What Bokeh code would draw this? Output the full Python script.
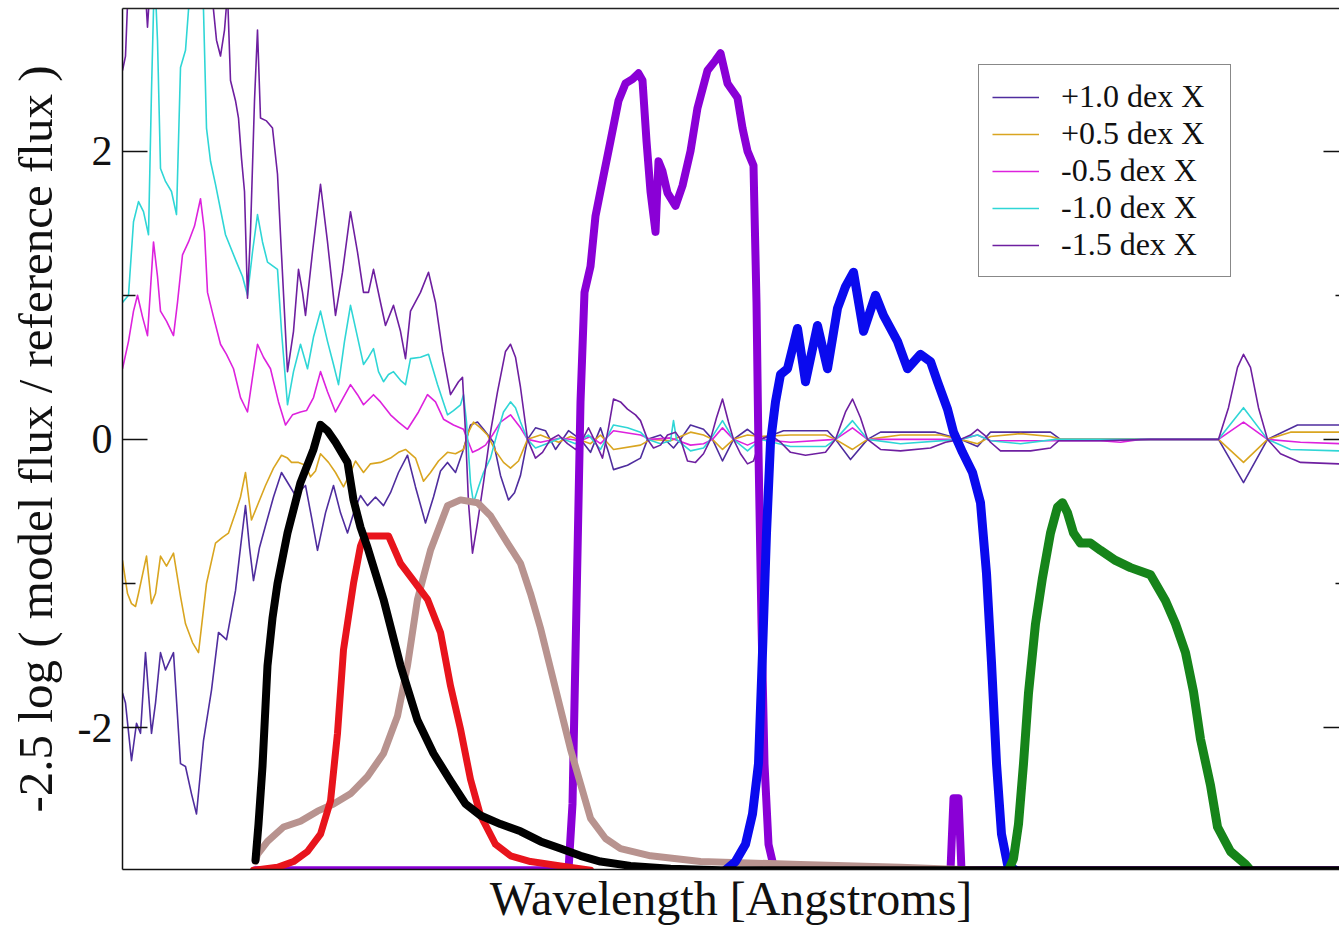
from bokeh.plotting import figure
from bokeh.models import Range1d, LinearAxis, FixedTicker, Legend, LegendItem
from bokeh.embed import file_html
from bokeh.resources import INLINE

# ---------------- data: wavelength [A], -2.5 log(model/reference) ----------------
P10 = [(1000,-1.76),(1030,-1.83),(1090,-2.23),(1140,-1.97),(1180,-2.04),(1230,-1.48),(1290,-2.04),(1330,-1.83),
       (1380,-1.48),(1430,-1.60),(1510,-1.48),(1580,-2.25),(1630,-2.27),(1690,-2.46),(1740,-2.60),(1810,-2.09),
       (1890,-1.74),(1960,-1.34),(2040,-1.39),(2130,-1.05),(2180,-0.75),(2230,-0.46),(2270,-0.75),(2310,-0.98),
       (2370,-0.75),(2430,-0.60),(2510,-0.40),(2590,-0.23),(2660,-0.31),(2730,-0.39),(2830,-0.32),(2890,-0.54),
       (2950,-0.77),(3030,-0.51),(3110,-0.32),(3180,-0.51),(3250,-0.65),(3330,-0.47),(3380,-0.39),(3450,-0.46),
       (3530,-0.40),(3610,-0.46),(3680,-0.37),(3760,-0.23),(3850,-0.11),(3930,-0.33),(4030,-0.58),(4110,-0.40),
       (4180,-0.22),(4250,-0.16),(4330,-0.23),(4400,-0.09),(4480,0.10),(4550,0.12),(4610,0.07),(4710,-0.02),
       (4780,-0.25),(4860,-0.42),(4920,-0.37),(4980,-0.25),(5050,0),(5130,0.08),(5230,0.06),(5330,-0.07),
       (5460,0.06),(5580,0),(5680,-0.09),(5780,0.08),(5860,-0.09),(5910,-0.21),(6050,-0.18),(6180,-0.13),
       (6250,0),(6380,0.03),(6510,-0.06),(6580,0),(6680,0.10),(6810,0.07),(6900,0),(7000,-0.15),(7110,0),
       (7250,0.07),(7380,0),(7610,0.06),(8050,0.06),(8130,0),(8280,-0.14),(8450,0),(8580,0.05),(9130,0.05),
       (9380,0),(9550,-0.05),(9680,0.05),(10280,0.05),(10380,0),(11960,0),(12210,-0.30),(12450,0),(12750,0.10),
       (13170,0.10)]

P05 = [(1000,-0.84),(1050,-1.07),(1090,-1.14),(1130,-1.16),(1160,-1.07),(1240,-0.81),(1290,-1.14),(1330,-1.07),
       (1380,-0.81),(1440,-0.88),(1510,-0.79),(1580,-1.09),(1630,-1.28),(1700,-1.41),(1760,-1.48),(1840,-1.00),
       (1930,-0.72),(2000,-0.68),(2060,-0.65),(2130,-0.51),(2180,-0.40),(2230,-0.23),(2290,-0.56),(2360,-0.44),
       (2430,-0.32),(2510,-0.20),(2590,-0.11),(2650,-0.13),(2690,-0.16),(2760,-0.16),(2830,-0.18),(2880,-0.26),
       (2930,-0.22),(2980,-0.10),(3060,-0.16),(3130,-0.23),(3210,-0.33),(3280,-0.23),(3330,-0.15),(3410,-0.23),
       (3480,-0.17),(3580,-0.16),(3680,-0.13),(3760,-0.09),(3830,-0.07),(3930,-0.13),(4010,-0.29),(4080,-0.23),
       (4160,-0.15),(4250,-0.09),(4330,-0.10),(4410,-0.07),(4460,0.05),(4510,0.12),(4580,0.08),(4650,0.03),
       (4730,-0.08),(4810,-0.16),(4880,-0.20),(4960,-0.15),(5050,0),(5180,0.03),(5360,-0.02),(5480,0.02),
       (5680,-0.03),(5780,0.03),(5910,-0.07),(6180,-0.04),(6280,0),(6480,-0.01),(6680,0.05),(6810,0.03),
       (6900,0),(7000,-0.07),(7110,0),(7250,0.03),(7380,0.02),(7680,0.03),(8030,0.03),(8130,0),(8300,-0.07),
       (8450,0),(8780,0.03),(9180,0.03),(9380,0),(9550,-0.03),(9680,0.02),(9980,0.04),(10280,0.02),(10380,0),
       (11960,0),(12210,-0.16),(12450,0),(12680,0.05),(13170,0.05)]

M05 = [(1000,0.49),(1060,0.68),(1110,0.89),(1150,1.00),(1200,0.85),(1250,0.72),(1310,1.37),(1350,1.13),
       (1380,0.89),(1440,0.82),(1510,0.72),(1550,0.95),(1600,1.28),(1660,1.37),(1720,1.48),(1780,1.67),
       (1820,1.44),(1850,1.02),(1910,0.85),(1980,0.66),(2040,0.59),(2110,0.49),(2180,0.29),(2250,0.19),
       (2300,0.43),(2350,0.66),(2410,0.57),(2480,0.49),(2560,0.26),(2630,0.10),(2700,0.17),(2780,0.19),
       (2840,0.20),(2910,0.29),(2980,0.47),(3050,0.33),(3130,0.19),(3200,0.28),(3280,0.38),(3350,0.31),
       (3410,0.24),(3510,0.31),(3580,0.26),(3680,0.17),(3760,0.12),(3850,0.07),(3960,0.19),(4050,0.31),
       (4130,0.26),(4210,0.14),(4310,0.10),(4410,0.07),(4460,-0.02),(4500,-0.09),(4560,-0.07),(4630,-0.04),
       (4700,0.03),(4780,0.12),(4880,0.17),(4980,0.08),(5050,0),(5180,-0.02),(5380,0.01),(5580,-0.01),
       (5680,0.02),(5780,-0.03),(5910,0.06),(6180,0.03),(6280,0),(6480,0.01),(6680,-0.04),(6810,-0.03),
       (6900,0),(7000,0.08),(7110,0),(7250,-0.04),(7380,0),(7680,-0.02),(8130,0),(8300,0.08),(8450,0),
       (9380,0),(9550,0.03),(9680,-0.01),(10780,-0.01),(10980,-0.02),(11180,0),(11960,0),(12210,0.12),
       (12450,0),(12780,-0.02),(13170,-0.03)]

M10 = [(1000,0.95),(1060,1.00),(1110,1.51),(1160,1.65),(1210,1.58),(1260,1.42),(1290,2.42),(1310,2.98),
       (1330,3.1),(1350,2.77),(1380,1.88),(1430,1.79),(1490,1.72),(1540,1.56),(1580,2.58),(1630,2.70),
       (1660,2.98),(1710,3.2),(1780,3.2),(1810,2.98),(1840,2.16),(1880,1.93),(1930,1.77),(2030,1.42),
       (2140,1.23),(2200,1.13),(2250,1.00),(2300,1.30),(2350,1.56),(2400,1.37),(2450,1.23),(2550,1.18),
       (2590,0.75),(2650,0.24),(2710,0.47),(2780,0.66),(2850,0.49),(2910,0.71),(2980,0.89),(3050,0.68),
       (3110,0.52),(3160,0.38),(3220,0.68),(3280,0.93),(3350,0.71),(3410,0.52),(3460,0.57),(3510,0.63),
       (3560,0.47),(3610,0.40),(3660,0.45),(3710,0.47),(3780,0.41),(3830,0.38),(3880,0.56),(3980,0.57),
       (4060,0.59),(4150,0.38),(4250,0.17),(4310,0.20),(4380,0.24),(4410,0.31),(4440,0.12),(4480,-0.30),
       (4510,-0.44),(4560,-0.33),(4610,-0.23),(4680,-0.13),(4750,0.05),(4810,0.19),(4880,0.26),(4930,0.22),
       (4980,0.12),(5050,0),(5130,-0.06),(5280,-0.02),(5380,0.01),(5530,-0.03),(5660,0.03),(5780,-0.07),
       (5910,0.10),(6050,0.08),(6180,0.05),(6250,0),(6380,-0.03),(6480,-0.01),(6510,0.13),(6540,0),
       (6680,-0.08),(6810,-0.06),(6880,0),(7000,0.13),(7110,0),(7250,-0.08),(7380,0),(7680,-0.05),
       (8030,-0.05),(8130,0),(8300,0.13),(8450,0),(8780,-0.03),(9380,0),(9550,0.03),(9680,-0.01),
       (9980,-0.03),(10330,0),(11960,0),(12210,0.22),(12450,0),(12680,-0.07),(13170,-0.08)]

M15 = [(1000,2.56),(1030,2.66),(1060,3.2),(1160,3.4),(1230,3.1),(1250,2.86),(1280,3.2),(1480,3.5),
       (1730,3.4),(1900,3.05),(1940,2.77),(1980,2.66),(2020,2.84),(2050,3.1),(2080,2.49),(2130,2.35),
       (2160,2.23),(2190,1.95),(2220,1.72),(2250,0.98),(2280,1.44),(2320,2.35),(2350,2.84),(2380,2.23),
       (2440,2.21),(2500,2.16),(2550,1.84),(2580,1.42),(2650,0.47),(2710,0.75),(2760,1.18),(2800,1.02),
       (2830,0.86),(2900,1.30),(2980,1.77),(3050,1.37),(3130,0.86),(3200,1.16),(3280,1.58),(3350,1.30),
       (3410,1.02),(3460,1.02),(3510,1.18),(3580,0.95),(3630,0.79),(3710,0.93),(3780,0.75),(3830,0.56),
       (3880,0.89),(3980,1.02),(4060,1.16),(4130,0.95),(4200,0.61),(4280,0.31),(4360,0.40),(4400,0.43),
       (4430,0.05),(4460,-0.44),(4500,-0.79),(4550,-0.58),(4610,-0.30),(4680,0.05),(4750,0.33),(4830,0.61),
       (4880,0.66),(4930,0.57),(4980,0.36),(5050,0),(5130,-0.13),(5200,-0.09),(5280,0),(5360,0.03),
       (5450,-0.03),(5530,-0.07),(5600,0),(5660,0.08),(5730,-0.02),(5800,-0.13),(5860,0.08),(5910,0.28),
       (5980,0.26),(6050,0.21),(6130,0.17),(6180,0.13),(6250,0),(6310,-0.06),(6380,-0.04),(6450,0.03),
       (6530,0.05),(6580,0),(6650,-0.15),(6730,-0.16),(6810,-0.10),(6880,0),(6940,0.15),(7000,0.28),
       (7060,0.12),(7110,0),(7180,-0.10),(7250,-0.17),(7310,-0.15),(7380,0),(7480,0.03),(7580,-0.02),
       (7680,-0.09),(7830,-0.11),(8030,-0.09),(8130,0),(8230,0.19),(8300,0.28),(8380,0.15),(8450,0),
       (8580,-0.07),(8780,-0.08),(9080,-0.06),(9230,-0.02),(9380,0),(9480,0.03),(9550,0.07),(9620,0.03),
       (9680,-0.02),(9780,-0.08),(10080,-0.08),(10280,-0.06),(10360,-0.01),(10780,-0.01),(11280,0),
       (11780,0),(11960,0),(12060,0.22),(12150,0.50),(12210,0.59),(12280,0.50),(12360,0.22),(12450,0),
       (12580,-0.10),(12780,-0.16),(13170,-0.17)]

# filter transmission curves (scaled onto the same axis)
F_PURPLE = [(2330,-2.99),(5460,-2.99),(5500,-2.53),(5540,-1.14),(5580,0.26),(5620,1.02),(5680,1.20),
            (5730,1.55),(5810,1.83),(5880,2.07),(5960,2.35),(6030,2.47),(6100,2.50),(6160,2.54),(6200,2.49),
            (6240,2.07),(6280,1.72),(6330,1.44),(6360,1.93),(6400,1.86),(6450,1.71),(6530,1.62),(6600,1.76),
            (6680,2.00),(6750,2.30),(6850,2.56),(6930,2.63),(6980,2.68),(7050,2.47),(7150,2.37),(7200,2.16),
            (7250,2.00),(7310,1.90),(7340,0.95),(7360,-0.09),(7390,-1.28),(7420,-2.25),(7460,-2.81),
            (7520,-2.99),(9280,-2.99),(9310,-2.49),(9360,-2.49),(9390,-2.99),(13170,-2.99)]
F_TAN = [(2330,-2.93),(2350,-2.88),(2450,-2.79),(2610,-2.69),(2780,-2.65),(2950,-2.58),(3110,-2.53),
         (3280,-2.46),(3450,-2.34),(3610,-2.18),(3750,-1.92),(3850,-1.57),(3950,-1.11),(4080,-0.77),
         (4250,-0.46),(4380,-0.42),(4550,-0.44),(4680,-0.53),(4850,-0.72),(4980,-0.86),(5080,-1.07),
         (5180,-1.31),(5280,-1.59),(5380,-1.87),(5480,-2.15),(5580,-2.39),(5680,-2.63),(5830,-2.77),
         (5980,-2.84),(6280,-2.89),(6780,-2.93),(7780,-2.95),(8780,-2.97),(9580,-2.99)]
F_RED = [(2310,-2.99),(2550,-2.97),(2710,-2.93),(2850,-2.86),(2980,-2.74),(3080,-2.51),(3150,-2.04),
         (3210,-1.46),(3310,-1.00),(3380,-0.74),(3420,-0.67),(3660,-0.67),(3780,-0.86),(3910,-0.98),
         (4050,-1.11),(4180,-1.34),(4280,-1.71),(4380,-2.01),(4480,-2.36),(4580,-2.61),(4730,-2.81),
         (4880,-2.89),(5080,-2.93),(5380,-2.96),(5680,-2.99)]
F_BLUE = [(7030,-2.99),(7130,-2.93),(7230,-2.81),(7300,-2.60),(7360,-2.25),(7400,-1.48),(7440,-0.65),
          (7480,-0.02),(7530,0.26),(7580,0.45),(7650,0.49),(7750,0.77),(7830,0.40),(7950,0.79),(8050,0.49),
          (8150,0.91),(8230,1.06),(8310,1.16),(8410,0.75),(8530,1.00),(8610,0.86),(8750,0.68),(8850,0.49),
          (8980,0.59),(9080,0.54),(9150,0.40),(9250,0.21),(9310,0.05),(9400,-0.09),(9500,-0.23),(9580,-0.44),
          (9640,-0.93),(9690,-1.55),(9740,-2.25),(9790,-2.74),(9850,-2.95),(9930,-2.99)]
F_GREEN = [(9860,-2.99),(9910,-2.91),(9960,-2.67),(10010,-2.25),(10060,-1.76),(10130,-1.28),(10200,-0.96),
           (10280,-0.65),(10350,-0.47),(10400,-0.44),(10450,-0.51),(10510,-0.65),(10580,-0.72),(10680,-0.72),
           (10780,-0.77),(10930,-0.84),(11080,-0.89),(11280,-0.94),(11430,-1.12),(11530,-1.28),(11630,-1.48),
           (11710,-1.75),(11780,-2.08),(11880,-2.40),(11950,-2.69),(12080,-2.86),(12230,-2.95),(12280,-2.99)]
F_BLACK = [(2330,-2.92),(2360,-2.67),(2400,-2.27),(2450,-1.57),(2500,-1.24),(2550,-1.00),(2650,-0.65),
           (2780,-0.30),(2910,-0.07),(2980,0.10),(3050,0.06),(3130,-0.02),(3250,-0.16),(3310,-0.42),
           (3380,-0.61),(3450,-0.75),(3610,-1.11),(3780,-1.57),(3950,-1.95),(4110,-2.18),(4280,-2.37),
           (4430,-2.53),(4580,-2.61),(4780,-2.67),(4980,-2.72),(5180,-2.79),(5380,-2.84),(5580,-2.89),
           (5780,-2.93),(6080,-2.96),(6480,-2.98),(6980,-2.99),(13170,-2.99)]

SERIES = [("+1.0 dex X", P10, "#4f2d9e"), ("+0.5 dex X", P05, "#d9a520"),
          ("-0.5 dex X", M05, "#dd22dd"), ("-1.0 dex X", M10, "#2fd6d6"),
          ("-1.5 dex X", M15, "#6e1fa0")]
FILTERS = [(F_PURPLE, "#8a00d6", 8), (F_TAN, "#b8938f", 7), (F_RED, "#e8141c", 7),
           (F_BLUE, "#0a0aee", 9), (F_GREEN, "#16841a", 9), (F_BLACK, "#000000", 8)]

Y_TICKS = [-2, 0, 2]
Y_MINOR = [-1, 1]

SERIF = "Liberation Serif"

p = figure(width=1339, height=927, output_backend="svg", toolbar_location=None,
           x_range=Range1d(1000, 13170), y_range=Range1d(-2.985, 2.99),
           x_axis_type=None, y_axis_type=None,
           min_border_left=122, min_border_right=0, min_border_top=8, min_border_bottom=0)
p.outline_line_color = None
p.background_fill_color = "white"
p.border_fill_color = "white"

# left axis
ya = LinearAxis(ticker=FixedTicker(ticks=Y_TICKS, minor_ticks=Y_MINOR),
                axis_label="-2.5 log ( model flux / reference flux )",
                axis_label_text_font=SERIF, axis_label_text_font_size="49px",
                axis_label_text_font_style="normal", axis_label_text_color="#111111",
                axis_label_standoff=12,
                major_label_text_font=SERIF, major_label_text_font_size="42px",
                major_label_text_color="#111111", major_label_standoff=10,
                major_label_overrides={-2: "-2", 0: "0", 2: "2"},
                major_tick_in=25, major_tick_out=0, minor_tick_in=13, minor_tick_out=0,
                major_tick_line_width=1.5, minor_tick_line_width=1.5,
                axis_line_width=1.5, axis_line_color="#111111",
                major_tick_line_color="#111111", minor_tick_line_color="#111111")
p.add_layout(ya, "left")

# right ticks (no labels, no line: the frame continues past the window)
ra = LinearAxis(ticker=FixedTicker(ticks=Y_TICKS, minor_ticks=Y_MINOR),
                major_tick_in=16, major_tick_out=0, minor_tick_in=4, minor_tick_out=0,
                major_tick_line_width=1.5, minor_tick_line_width=1.5,
                major_tick_line_color="#111111", minor_tick_line_color="#111111",
                axis_line_color=None, major_label_text_alpha=0,
                major_label_text_font_size="1px", major_label_standoff=0)
p.add_layout(ra, "right")

# top border line
ta = LinearAxis(ticker=FixedTicker(ticks=[]), major_tick_in=0, major_tick_out=0,
                minor_tick_in=0, minor_tick_out=0, major_label_standoff=0,
                axis_line_color="#222222", axis_line_width=1.5)
p.add_layout(ta, "above")

# bottom axis (no tick labels)
ba = LinearAxis(ticker=FixedTicker(ticks=[]), major_tick_in=0, major_tick_out=0,
                minor_tick_in=0, minor_tick_out=0, major_label_standoff=0,
                axis_label="Wavelength [Angstroms]", axis_label_text_font=SERIF,
                axis_label_text_font_size="48px", axis_label_text_font_style="normal",
                axis_label_text_color="#111111", axis_label_standoff=2,
                axis_line_color="#111111", axis_line_width=1.5)
p.add_layout(ba, "below")

# thin model-ratio curves
items = []
for label, pts, color in SERIES:
    xs = [a for a, b in pts]
    ys = [b for a, b in pts]
    r = p.line(xs, ys, line_color=color, line_width=1.6, line_join="round")
    items.append(LegendItem(label=label, renderers=[r]))

# thick filter curves
for pts, color, w in FILTERS:
    xs = [a for a, b in pts]
    ys = [b for a, b in pts]
    p.line(xs, ys, line_color=color, line_width=w, line_join="round", line_cap="round")

legend = Legend(items=items, location=(856, 592), margin=0, padding=13, spacing=0,
                label_text_font=SERIF, label_text_font_size="32px", label_text_color="#111111",
                label_standoff=22, glyph_width=47, glyph_height=20, label_height=36, label_width=156,
                border_line_color="#111111", border_line_width=1.5,
                background_fill_color="white", background_fill_alpha=1.0)
p.add_layout(legend)

open("out.html", "w").write(file_html(p, INLINE))
